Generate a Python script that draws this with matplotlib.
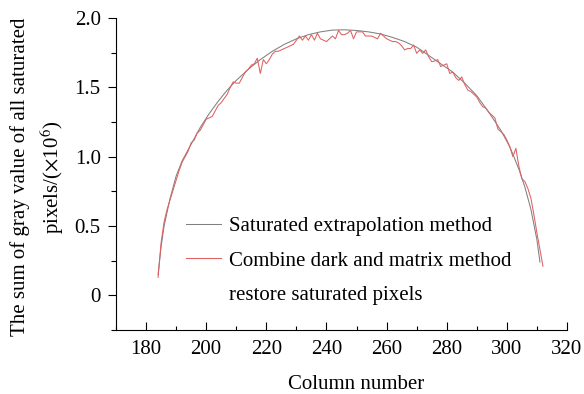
import matplotlib
matplotlib.use("Agg")
import matplotlib.pyplot as plt
from matplotlib.lines import Line2D
from matplotlib.ticker import MultipleLocator

plt.rcParams['font.family'] = ['Liberation Serif', 'DejaVu Serif']
plt.rcParams['mathtext.fontset'] = 'stix'

# Saturated extrapolation method (gray)
gray_x = [184, 185, 186, 188, 190, 192, 195, 198, 201, 204, 207, 210, 214, 218,
          222, 226, 230, 234, 238, 242, 246, 250, 254, 258, 262, 266, 270, 274,
          278, 282, 286, 290, 294, 298, 301, 304, 306, 308, 310, 311]
gray_y = [0.15, 0.35, 0.50, 0.70, 0.86, 0.97, 1.09, 1.21, 1.31, 1.40, 1.48, 1.55,
          1.63, 1.70, 1.76, 1.81, 1.85, 1.88, 1.90, 1.913, 1.915, 1.91, 1.90,
          1.885, 1.86, 1.83, 1.79, 1.73, 1.67, 1.61, 1.53, 1.44, 1.32, 1.19,
          1.07, 0.91, 0.78, 0.62, 0.40, 0.24]

# Combine dark and matrix method (red)
red_x = list(range(184, 313))
red_y = [0.13, 0.38, 0.53, 0.62, 0.69, 0.76, 0.83, 0.90, 0.96, 1.00,
         1.04, 1.10, 1.12, 1.17, 1.19, 1.23, 1.27, 1.28, 1.29, 1.33,
         1.37, 1.39, 1.42, 1.45, 1.50, 1.54, 1.53, 1.53, 1.57, 1.61,
         1.63, 1.66, 1.67, 1.71, 1.60, 1.70, 1.67, 1.70, 1.74, 1.76,
         1.76, 1.77, 1.78, 1.79, 1.80, 1.81, 1.84, 1.87, 1.84, 1.87,
         1.84, 1.88, 1.84, 1.89, 1.85, 1.84, 1.83, 1.85, 1.87, 1.85,
         1.91, 1.88, 1.88, 1.89, 1.91, 1.85, 1.90, 1.90, 1.90, 1.87,
         1.87, 1.87, 1.86, 1.85, 1.89, 1.87, 1.85, 1.84, 1.83, 1.83,
         1.82, 1.80, 1.77, 1.78, 1.78, 1.805, 1.745, 1.77, 1.745, 1.77,
         1.72, 1.685, 1.69, 1.70, 1.65, 1.66, 1.67, 1.60, 1.61, 1.57,
         1.55, 1.575, 1.52, 1.48, 1.47, 1.45, 1.43, 1.39, 1.36, 1.35,
         1.32, 1.30, 1.28, 1.20, 1.18, 1.16, 1.12, 1.07, 1.00, 1.06,
         0.93, 0.84, 0.82, 0.77, 0.70, 0.58, 0.45, 0.33, 0.21]

labels = ["Saturated extrapolation method",
          "Combine dark and matrix method",
          "restore saturated pixels"]
x_ticks = [180, 200, 220, 240, 260, 280, 300, 320]
y_ticks = [0, 0.5, 1.0, 1.5, 2.0]
y_ticklabels = ["0", "0.5", "1.0", "1.5", "2.0"]

FS = 15

fig = plt.figure(figsize=(5.84, 3.94), dpi=100)
ax = fig.add_axes([0.1986, 0.1624, 0.7723, 0.7919])

l1, = ax.plot(gray_x, gray_y, color='#808080', lw=0.75)
l2, = ax.plot(red_x, red_y, color='#e06060', lw=0.75)

ax.set_xlim(170, 320)
ax.set_ylim(-0.25, 2.0)
ax.set_xticks(x_ticks)
ax.xaxis.set_minor_locator(MultipleLocator(10))
ax.set_yticks(y_ticks)
ax.set_yticklabels(y_ticklabels)
ax.yaxis.set_minor_locator(MultipleLocator(0.25))

for s in ['top', 'right']:
    ax.spines[s].set_visible(False)
for s in ['left', 'bottom']:
    ax.spines[s].set_linewidth(0.8)

ax.tick_params(axis='x', which='major', direction='in', length=6, width=0.8, labelsize=FS, pad=7)
ax.tick_params(axis='x', which='minor', direction='in', length=3, width=0.8)
ax.tick_params(axis='y', which='major', direction='out', length=6, width=0.8, labelsize=FS, pad=5)
ax.tick_params(axis='y', which='minor', direction='out', length=3.5, width=0.8)

ax.set_xlabel("Column number", fontsize=FS)
ax.xaxis.set_label_coords(0.532, -0.145)
ax.set_ylabel("The sum of gray value of all saturated\npixels/($\\times$10$^{6}$)",
              fontsize=FS, linespacing=1.45)
ax.yaxis.set_label_coords(-0.11, 0.49)

blank = Line2D([], [], color='none')
ax.legend([l1, l2, blank], labels, loc='upper left', frameon=False,
          bbox_to_anchor=(0.155, 0.363), fontsize=FS, handlelength=1.7,
          handletextpad=0.35, labelspacing=0.7, borderpad=0, borderaxespad=0)

fig.savefig("out.png", dpi=100)
